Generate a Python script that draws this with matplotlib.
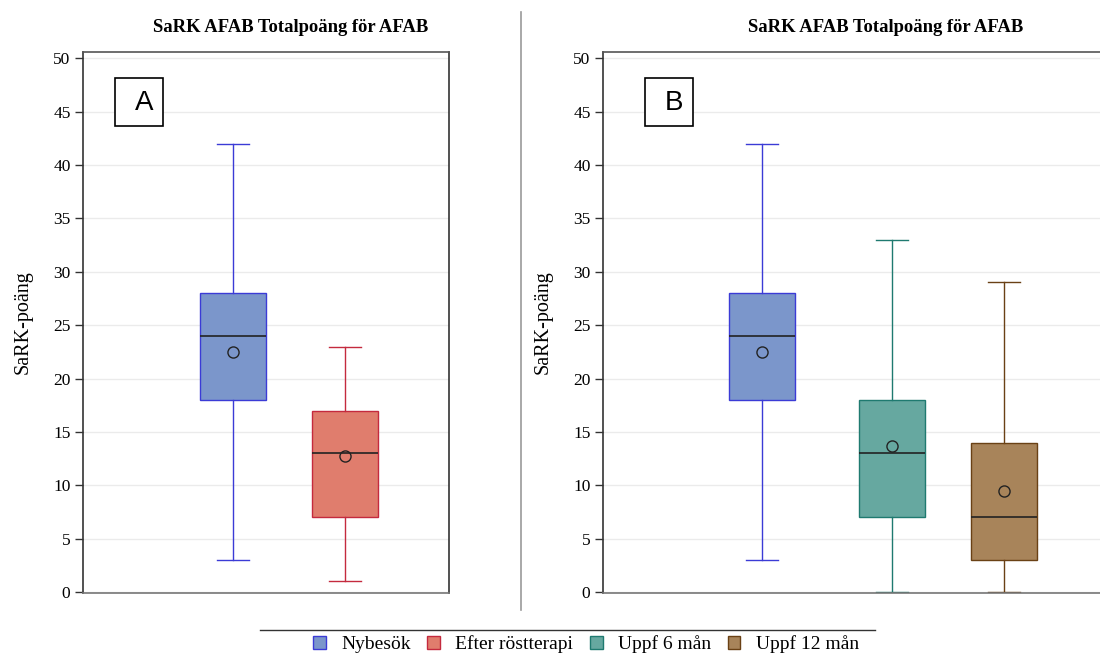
import matplotlib
matplotlib.use("Agg")
import matplotlib.pyplot as plt
from matplotlib.patches import Patch, Rectangle
from matplotlib.lines import Line2D

# ---- data ----
groups_a = ["Nybesök", "Efter röstterapi"]
groups_b = ["Nybesök", "Uppf 6 mån", "Uppf 12 mån"]
whislo = {"Nybesök": 3, "Efter röstterapi": 1, "Uppf 6 mån": 0, "Uppf 12 mån": 0}
q1 = {"Nybesök": 18, "Efter röstterapi": 7, "Uppf 6 mån": 7, "Uppf 12 mån": 3}
med = {"Nybesök": 24, "Efter röstterapi": 13, "Uppf 6 mån": 13, "Uppf 12 mån": 7}
q3 = {"Nybesök": 28, "Efter röstterapi": 17, "Uppf 6 mån": 18, "Uppf 12 mån": 14}
whishi = {"Nybesök": 42, "Efter röstterapi": 23, "Uppf 6 mån": 33, "Uppf 12 mån": 29}
mean = {"Nybesök": 22.5, "Efter röstterapi": 12.7, "Uppf 6 mån": 13.7, "Uppf 12 mån": 9.5}
legend_labels = ["Nybesök", "Efter röstterapi", "Uppf 6 mån", "Uppf 12 mån"]
yticks = [0, 5, 10, 15, 20, 25, 30, 35, 40, 45, 50]
title = "SaRK AFAB Totalpoäng för AFAB"
ylabel = "SaRK-poäng"

fill = {"Nybesök": "#7b96cb", "Efter röstterapi": "#e07d6d",
        "Uppf 6 mån": "#66a8a0", "Uppf 12 mån": "#a8845a"}
edge = {"Nybesök": "#3b3bd6", "Efter röstterapi": "#c42a3e",
        "Uppf 6 mån": "#1f7a70", "Uppf 12 mån": "#6a4115"}

plt.rcParams["font.family"] = ["Liberation Serif", "DejaVu Serif"]

W, H = 1100, 653
fig = plt.figure(figsize=(11, 6.53), dpi=100)

def frac(x0, y0, x1, y1):
    return [x0 / W, 1 - y1 / H, (x1 - x0) / W, (y1 - y0) / H]

def draw(ax, groups, positions, xlim, letter, show_right, box_rect):
    stats = []
    for g in groups:
        stats.append(dict(whislo=whislo[g], q1=q1[g], med=med[g], q3=q3[g],
                          whishi=whishi[g], mean=mean[g], fliers=[], label=g))
    bp = ax.bxp(stats, positions=positions, widths=0.59, patch_artist=True,
                showmeans=True, showfliers=False,
                meanprops=dict(marker="o", markerfacecolor="none",
                               markeredgecolor="#222222", markersize=8, markeredgewidth=1.0),
                medianprops=dict(color="#222222", linewidth=1.2),
                capwidths=0.29)
    for i, g in enumerate(groups):
        b = bp["boxes"][i]
        b.set_facecolor(fill[g]); b.set_edgecolor(edge[g]); b.set_linewidth(1.0)
        for ln in bp["whiskers"][2 * i:2 * i + 2] + bp["caps"][2 * i:2 * i + 2]:
            ln.set_color(edge[g]); ln.set_linewidth(1.0)
    ax.set_xlim(*xlim)
    ax.set_ylim(-0.1, 50.6)
    ax.set_yticks(yticks)
    ax.set_xticks([])
    ax.yaxis.grid(True, color="#ebebeb", linewidth=1)
    ax.set_axisbelow(True)
    ax.tick_params(axis="y", labelsize=12.5, length=6, width=1, color="#333333", pad=3)
    for s in ["left", "right", "top", "bottom"]:
        ax.spines[s].set_color("#333333")
        ax.spines[s].set_linewidth(1.2)
    ax.spines["bottom"].set_color("#777777")
    ax.spines["top"].set_color("#555555")
    ax.spines["right"].set_visible(show_right)
    ax.set_ylabel(ylabel, fontsize=14.5, labelpad=15)
    bx, by, bw, bh = box_rect
    ax.add_patch(Rectangle((bx, by), bw, bh, transform=ax.transAxes, facecolor="white",
                           edgecolor="black", linewidth=1.2, zorder=5))
    ax.text(bx + bw * 0.6, by + bh * 0.48, letter, transform=ax.transAxes, ha="center", va="center",
            fontsize=20, family="Liberation Sans", zorder=6)

axA = fig.add_axes(frac(83, 52, 449, 593))
draw(axA, groups_a, [1, 2], (-0.34, 2.93), "A", True, (0.0874, 0.863, 0.131, 0.0887))
axB = fig.add_axes(frac(603, 52, 1100, 593))
draw(axB, groups_b, [1, 2.16, 3.16], (-0.42, 4.02), "B", False, (0.0845, 0.863, 0.0966, 0.0887))

fig.text(291 / W, 1 - 27 / H, title, ha="center", va="center", fontsize=13.4, fontweight="bold")
fig.text(886 / W, 1 - 27 / H, title, ha="center", va="center", fontsize=13.4, fontweight="bold")

# separator
fig.add_artist(Line2D([521 / W, 521 / W], [1 - 12 / H, 1 - 610 / H], color="#9a9a9a", linewidth=1.2))
# legend top line
fig.add_artist(Line2D([260 / W, 875 / W], [1 - 630 / H, 1 - 630 / H], color="#333333", linewidth=1.0))

handles = [Patch(facecolor=fill[g], edgecolor=edge[g], linewidth=1.0) for g in legend_labels]
fig.legend(handles, legend_labels, loc="center", bbox_to_anchor=(586 / W, 1 - 644 / H), ncol=4,
           frameon=False, fontsize=14.0, handlelength=0.65, handleheight=0.65,
           handletextpad=0.8, columnspacing=0.85, borderpad=0)

fig.savefig("out.png", dpi=100)
